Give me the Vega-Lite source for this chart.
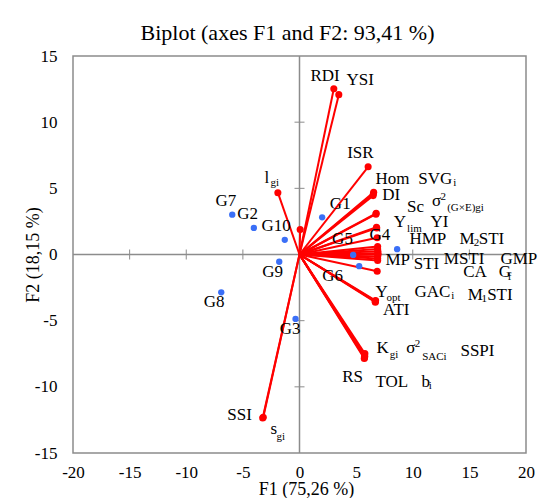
{
  "$schema": "https://vega.github.io/schema/vega-lite/v6.json",
  "width": 453,
  "height": 397,
  "autosize": {"type": "none"},
  "padding": {"left": 73, "top": 56, "right": 13, "bottom": 45},
  "background": "white",
  "config": {
    "font": "Liberation Serif",
    "view": {"stroke": "#8c8c8c", "strokeWidth": 1.5}
  },
  "title": {
    "text": "Biplot (axes F1 and F2: 93,41 %)",
    "font": "Liberation Serif",
    "fontSize": 22,
    "fontWeight": "normal",
    "color": "black",
    "dx": -12,
    "offset": 2
  },
  "datasets": {
    "vars": [
      {"v": "RDI", "x": 3.03, "y": 12.53},
      {"v": "YSI", "x": 3.47, "y": 12.08},
      {"v": "ISR", "x": 6.06, "y": 6.63},
      {"v": "lgi", "x": -1.91, "y": 4.67},
      {"v": "u", "x": 0.06, "y": 1.88},
      {"v": "Hom", "x": 6.55, "y": 4.7},
      {"v": "SVGi", "x": 6.52, "y": 4.58},
      {"v": "DI", "x": 6.5, "y": 4.45},
      {"v": "Sc", "x": 6.77, "y": 3.11},
      {"v": "s2GE", "x": 6.75, "y": 3.05},
      {"v": "Ylim", "x": 6.8, "y": 2.06},
      {"v": "YI", "x": 6.82, "y": 2.0},
      {"v": "HMP", "x": 6.86, "y": 1.26},
      {"v": "M2STI", "x": 6.9, "y": 0.6},
      {"v": "MP", "x": 6.9, "y": 0.42},
      {"v": "STI", "x": 6.92, "y": 0.25},
      {"v": "MSTI", "x": 6.92, "y": 0.1},
      {"v": "GMP", "x": 6.93, "y": 0.0},
      {"v": "CA", "x": 6.9, "y": -0.15},
      {"v": "Gf", "x": 6.9, "y": -0.3},
      {"v": "X", "x": 6.9, "y": -0.45},
      {"v": "Y", "x": 6.86, "y": -1.26},
      {"v": "Yopt", "x": 6.7, "y": -3.52},
      {"v": "GACi", "x": 6.72, "y": -3.48},
      {"v": "M1STI", "x": 6.68, "y": -3.55},
      {"v": "ATI", "x": 6.7, "y": -3.6},
      {"v": "Kgi", "x": 5.77, "y": -7.48},
      {"v": "s2SACi", "x": 5.75, "y": -7.6},
      {"v": "SSPI", "x": 5.74, "y": -7.7},
      {"v": "RS", "x": 5.72, "y": -7.86},
      {"v": "TOL", "x": 5.74, "y": -7.8},
      {"v": "bi", "x": 5.76, "y": -7.7},
      {"v": "SSI", "x": -3.2, "y": -12.3},
      {"v": "sgi", "x": -3.25, "y": -12.36}
    ],
    "geno": [
      {"g": "G1", "x": 2.0, "y": 2.81},
      {"g": "G2", "x": -4.03, "y": 2.01},
      {"g": "G3", "x": -0.35, "y": -4.87},
      {"g": "G4", "x": 8.62, "y": 0.4},
      {"g": "G5", "x": 4.74, "y": -0.03},
      {"g": "G6", "x": 5.27, "y": -0.88},
      {"g": "G7", "x": -5.94, "y": 3.01},
      {"g": "G8", "x": -6.91, "y": -2.86},
      {"g": "G9", "x": -1.79, "y": -0.55},
      {"g": "G10", "x": -1.3, "y": 1.11}
    ],
    "ticksx": [
      {"x": -15, "y": 0}, {"x": -10, "y": 0}, {"x": -5, "y": 0},
      {"x": 5, "y": 0}, {"x": 10, "y": 0}, {"x": 15, "y": 0}
    ],
    "ticksy": [
      {"x": 0, "y": -10}, {"x": 0, "y": -5}, {"x": 0, "y": 5}, {"x": 0, "y": 10}
    ],
    "lab": [
      {"t": "RDI", "x": 0.97, "y": 13.11, "r": "m"},
      {"t": "YSI", "x": 4.15, "y": 12.79, "r": "m"},
      {"t": "ISR", "x": 4.21, "y": 7.29, "r": "m"},
      {"t": "l", "x": -3.09, "y": 5.37, "r": "m"},
      {"t": "gi", "x": -2.56, "y": 5.15, "r": "s"},
      {"t": "Hom", "x": 6.71, "y": 5.33, "r": "m"},
      {"t": "SVG", "x": 10.48, "y": 5.33, "r": "m"},
      {"t": "i", "x": 13.57, "y": 5.2, "r": "s"},
      {"t": "DI", "x": 7.3, "y": 4.12, "r": "m"},
      {"t": "Sc", "x": 9.5, "y": 3.19, "r": "m"},
      {"t": "σ", "x": 11.71, "y": 3.69, "r": "m"},
      {"t": "2", "x": 12.44, "y": 4.12, "r": "p"},
      {"t": "(G×E)gi", "x": 13.04, "y": 3.32, "r": "s"},
      {"t": "Y", "x": 8.32, "y": 2.11, "r": "m"},
      {"t": "lim", "x": 9.5, "y": 1.73, "r": "s"},
      {"t": "YI", "x": 11.56, "y": 2.11, "r": "m"},
      {"t": "HMP", "x": 9.71, "y": 0.8, "r": "m"},
      {"t": "M", "x": 14.12, "y": 0.8, "r": "m"},
      {"t": "2", "x": 15.38, "y": 0.68, "r": "s"},
      {"t": "STI", "x": 15.83, "y": 0.8, "r": "m"},
      {"t": "MP", "x": 7.59, "y": -0.83, "r": "m"},
      {"t": "STI", "x": 10.09, "y": -1.13, "r": "m"},
      {"t": "MSTI", "x": 12.74, "y": -0.7, "r": "m"},
      {"t": "GMP", "x": 17.74, "y": -0.7, "r": "m"},
      {"t": "CA", "x": 14.45, "y": -1.71, "r": "m"},
      {"t": "G", "x": 17.59, "y": -1.71, "r": "m"},
      {"t": "f", "x": 18.38, "y": -1.91, "r": "s"},
      {"t": "Y", "x": 6.71, "y": -3.22, "r": "m"},
      {"t": "opt", "x": 7.68, "y": -3.52, "r": "s"},
      {"t": "GAC", "x": 10.15, "y": -3.22, "r": "m"},
      {"t": "i", "x": 13.39, "y": -3.39, "r": "s"},
      {"t": "M", "x": 14.85, "y": -3.47, "r": "m"},
      {"t": "1", "x": 16.06, "y": -3.59, "r": "s"},
      {"t": "STI", "x": 16.57, "y": -3.47, "r": "m"},
      {"t": "ATI", "x": 7.38, "y": -4.55, "r": "m"},
      {"t": "K", "x": 6.8, "y": -7.48, "r": "m"},
      {"t": "gi", "x": 7.97, "y": -7.79, "r": "s"},
      {"t": "σ", "x": 9.42, "y": -7.48, "r": "m"},
      {"t": "2", "x": 10.18, "y": -6.99, "r": "p"},
      {"t": "SACi", "x": 10.83, "y": -7.94, "r": "s"},
      {"t": "SSPI", "x": 14.21, "y": -7.69, "r": "m"},
      {"t": "RS", "x": 3.77, "y": -9.62, "r": "m"},
      {"t": "TOL", "x": 6.71, "y": -10.0, "r": "m"},
      {"t": "b", "x": 10.77, "y": -10.0, "r": "m"},
      {"t": "i", "x": 11.41, "y": -10.2, "r": "s"},
      {"t": "SSI", "x": -6.38, "y": -12.51, "r": "m"},
      {"t": "s", "x": -2.56, "y": -13.56, "r": "m"},
      {"t": "gi", "x": -2.03, "y": -14.02, "r": "s"},
      {"t": "G1", "x": 2.68, "y": 3.44, "r": "m"},
      {"t": "G2", "x": -5.5, "y": 2.69, "r": "m"},
      {"t": "G3", "x": -1.74, "y": -6.03, "r": "m"},
      {"t": "G4", "x": 6.18, "y": 1.11, "r": "m"},
      {"t": "G5", "x": 2.88, "y": 0.8, "r": "m"},
      {"t": "G6", "x": 2.0, "y": -2.03, "r": "m"},
      {"t": "G7", "x": -7.41, "y": 3.64, "r": "m"},
      {"t": "G8", "x": -8.45, "y": -3.97, "r": "m"},
      {"t": "G9", "x": -3.29, "y": -1.71, "r": "m"},
      {"t": "G10", "x": -3.35, "y": 1.76, "r": "m"}
    ]
  },
  "layer": [
    {
      "data": {"values": [{}]},
      "mark": {"type": "rule", "color": "#8c8c8c", "strokeWidth": 1.5},
      "encoding": {
        "x": {
          "datum": 0, "type": "quantitative",
          "scale": {"domain": [-20, 20], "nice": false, "zero": false},
          "axis": {
            "title": "F1 (75,26 %)", "values": [-20, -15, -10, -5, 0, 5, 10, 15, 20],
            "labelExpr": "replace(datum.label, '−', '-')",
            "grid": false, "ticks": false, "domain": false,
            "labelFont": "Liberation Serif", "labelFontSize": 17, "labelColor": "black",
            "labelPadding": 11, "labelFlush": false,
            "titleFont": "Liberation Serif", "titleFontSize": 18, "titleFontWeight": "normal",
            "titleColor": "black", "titlePadding": 0, "titleX": 233
          }
        }
      }
    },
    {
      "data": {"values": [{}]},
      "mark": {"type": "rule", "color": "#8c8c8c", "strokeWidth": 1.5},
      "encoding": {
        "y": {
          "datum": 0, "type": "quantitative",
          "scale": {"domain": [-15, 15], "nice": false, "zero": false},
          "axis": {
            "title": "F2 (18,15 %)", "values": [-15, -10, -5, 0, 5, 10, 15],
            "labelExpr": "replace(datum.label, '−', '-')",
            "grid": false, "ticks": false, "domain": false,
            "labelFont": "Liberation Serif", "labelFontSize": 17, "labelColor": "black",
            "labelPadding": 16, "labelFlush": false,
            "titleFont": "Liberation Serif", "titleFontSize": 18, "titleFontWeight": "normal",
            "titleColor": "black", "titleX": -35, "titleBaseline": "alphabetic"
          }
        }
      }
    },
    {
      "data": {"name": "ticksx"},
      "mark": {"type": "tick", "orient": "vertical", "color": "#8c8c8c", "size": 10, "thickness": 1, "opacity": 1},
      "encoding": {
        "x": {"field": "x", "type": "quantitative"},
        "y": {"field": "y", "type": "quantitative"}
      }
    },
    {
      "data": {"name": "ticksy"},
      "mark": {"type": "tick", "orient": "horizontal", "color": "#8c8c8c", "size": 10, "thickness": 1, "opacity": 1},
      "encoding": {
        "x": {"field": "x", "type": "quantitative"},
        "y": {"field": "y", "type": "quantitative"}
      }
    },
    {
      "data": {"name": "vars"},
      "mark": {"type": "rule", "color": "#ff0000", "strokeWidth": 2},
      "encoding": {
        "x": {"field": "x", "type": "quantitative"},
        "y": {"field": "y", "type": "quantitative"},
        "x2": {"datum": 0},
        "y2": {"datum": 0}
      }
    },
    {
      "data": {"name": "vars"},
      "mark": {"type": "circle", "color": "#ff0000", "size": 50, "opacity": 1},
      "encoding": {
        "x": {"field": "x", "type": "quantitative"},
        "y": {"field": "y", "type": "quantitative"}
      }
    },
    {
      "data": {"name": "geno"},
      "mark": {"type": "circle", "color": "#3a6ff7", "size": 40, "opacity": 1},
      "encoding": {
        "x": {"field": "x", "type": "quantitative"},
        "y": {"field": "y", "type": "quantitative"}
      }
    },
    {
      "data": {"name": "lab"},
      "transform": [{"filter": "datum.r == 'm'"}],
      "mark": {"type": "text", "align": "left", "baseline": "alphabetic", "font": "Liberation Serif", "fontSize": 17, "color": "black"},
      "encoding": {
        "x": {"field": "x", "type": "quantitative"},
        "y": {"field": "y", "type": "quantitative"},
        "text": {"field": "t"}
      }
    },
    {
      "data": {"name": "lab"},
      "transform": [{"filter": "datum.r != 'm'"}],
      "mark": {"type": "text", "align": "left", "baseline": "alphabetic", "font": "Liberation Serif", "fontSize": 11, "color": "black"},
      "encoding": {
        "x": {"field": "x", "type": "quantitative"},
        "y": {"field": "y", "type": "quantitative"},
        "text": {"field": "t"}
      }
    }
  ]
}
